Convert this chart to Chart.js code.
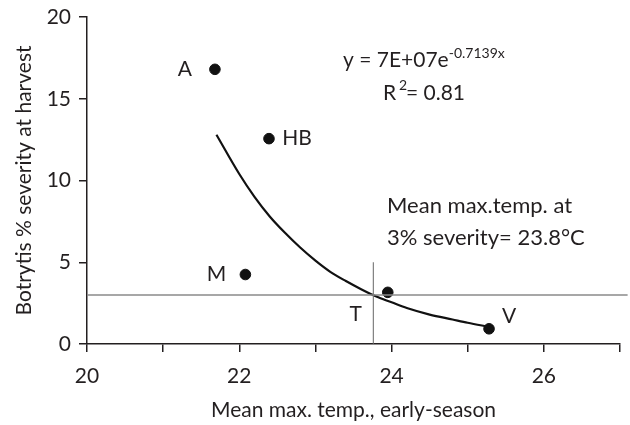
<!DOCTYPE html>
<html>
<head>
<meta charset="utf-8">
<script src="https://cdn.jsdelivr.net/npm/chart.js@4.4.1/dist/chart.umd.min.js"></script>
<style>
  html, body { margin: 0; padding: 0; background: #fff; }
  #wrap { width: 630px; height: 425px; }
</style>
</head>
<body>
<div id="wrap"><canvas id="botrytisChart" width="630" height="425"></canvas></div>
<script>
// vineyard sites: mean max temp vs botrytis severity
const siteNames = ['A', 'HB', 'M', 'T', 'V'];
const siteTemp = [21.68, 22.39, 22.08, 23.95, 25.28];
const siteSeverity = [16.8, 12.56, 4.25, 3.16, 0.93];

// exponential trendline
const trendTemp = [21.7, 22.0, 22.2, 22.4, 22.6, 22.8, 23.0, 23.2, 23.4, 23.6, 23.8, 24.0, 24.2, 24.5, 24.8, 25.0, 25.28];
const trendSeverity = [12.8, 10.4, 9.0, 7.8, 6.8, 5.9, 5.1, 4.4, 3.85, 3.35, 2.9, 2.55, 2.2, 1.8, 1.5, 1.3, 1.05];

// reference lines: 3% severity and 23.76 degrees
const thresholdSeverity = 3;
const thresholdTemp = 23.76;

const xTicks = [20, 22, 24, 26];
const yTicks = [0, 5, 10, 15, 20];

const fontFamily = 'Lato, "DejaVu Sans", sans-serif';
const ink = '#231f20';

// labels beside each site point (offset in px from the point)
const labelOffsets = {A: [-30, 0], HB: [28, 0], M: [-29, 0], T: [-32, 22], V: [20, -13]};

const annotationPlugin = {
    id: 'annotations',
    afterDatasetsDraw(chart) {
        const ctx = chart.ctx;
        const xs = chart.scales.x, ys = chart.scales.y;
        ctx.save();
        ctx.fillStyle = ink;
        ctx.font = '21px ' + fontFamily;
        ctx.textAlign = 'center';
        ctx.textBaseline = 'middle';
        siteNames.forEach((name, i) => {
            const off = labelOffsets[name];
            const px = xs.getPixelForValue(siteTemp[i]) + off[0];
            const py = ys.getPixelForValue(siteSeverity[i]) + off[1];
            ctx.fillText(name, px, py);
        });

        // equation
        ctx.textAlign = 'left';
        ctx.textBaseline = 'alphabetic';
        ctx.font = '21px ' + fontFamily;
        let x0 = 343, y0 = 67;
        const eq = 'y = 7E+07e';
        ctx.fillText(eq, x0, y0);
        let w = ctx.measureText(eq).width;
        ctx.font = '14px ' + fontFamily;
        ctx.fillText('-0.7139x', x0 + w, y0 - 9);

        ctx.font = '21px ' + fontFamily;
        ctx.fillText('R', 383, 100);
        ctx.font = '14px ' + fontFamily;
        ctx.fillText('2', 399, 90);
        ctx.font = '21px ' + fontFamily;
        ctx.fillText('= 0.81', 406, 100);

        ctx.font = '22px ' + fontFamily;
        ctx.fillText('Mean max.temp. at', 387, 213);
        ctx.fillText('3% severity= 23.8\u00B0C', 387, 245);
        ctx.restore();
    }
};

const ctx = document.getElementById('botrytisChart').getContext('2d');
const chart = new Chart(ctx, {
    type: 'scatter',
    data: {
        datasets: [
            {
                label: 'threshold severity',
                data: [{x: 20, y: thresholdSeverity}, {x: 27.1, y: thresholdSeverity}],
                showLine: true,
                borderColor: '#8a8a8a',
                borderWidth: 1.5,
                pointRadius: 0,
                clip: false
            },
            {
                label: 'threshold temp',
                data: [{x: thresholdTemp, y: 0}, {x: thresholdTemp, y: 5}],
                showLine: true,
                borderColor: '#666',
                borderWidth: 1,
                pointRadius: 0
            },
            {
                label: 'trend',
                data: trendTemp.map((t, i) => ({x: t, y: trendSeverity[i]})),
                showLine: true,
                borderColor: '#111',
                borderWidth: 2.2,
                pointRadius: 0,
                cubicInterpolationMode: 'monotone'
            },
            {
                label: 'sites',
                data: siteTemp.map((t, i) => ({x: t, y: siteSeverity[i]})),
                backgroundColor: '#111',
                borderColor: '#111',
                pointRadius: 5.3,
                pointHoverRadius: 5.3
            }
        ]
    },
    options: {
        responsive: false,
        animation: false,
        layout: { padding: { top: 17, right: 10, left: 0, bottom: 0 } },
        plugins: {
            legend: { display: false },
            tooltip: { enabled: false }
        },
        scales: {
            x: {
                type: 'linear',
                min: 20,
                max: 27,
                afterFit(scale) {
                    scale.height = 81;
                    scale.paddingLeft = 0;
                    scale.paddingRight = 0;
                },
                grid: { display: true, drawOnChartArea: false, drawTicks: true, tickLength: 8, color: ink, lineWidth: 1.5 },
                border: { color: ink, width: 1.5 },
                ticks: {
                    stepSize: 1,
                    color: ink,
                    font: { size: 21, family: fontFamily },
                    padding: 12,
                    maxRotation: 0,
                    callback: v => xTicks.includes(v) ? String(v) : ''
                },
                title: {
                    display: true,
                    text: 'Mean max. temp., early-season',
                    color: ink,
                    font: { size: 21, family: fontFamily },
                    padding: { top: 6, bottom: 2 }
                }
            },
            y: {
                type: 'linear',
                min: 0,
                max: 20,
                afterFit(scale) {
                    scale.width = 87;
                    scale.paddingTop = 0;
                    scale.paddingBottom = 0;
                },
                grid: { display: true, drawOnChartArea: false, drawTicks: true, tickLength: 8, color: ink, lineWidth: 1.5 },
                border: { color: ink, width: 1.5 },
                ticks: {
                    stepSize: 5,
                    color: ink,
                    font: { size: 21, family: fontFamily },
                    padding: 8,
                    callback: v => yTicks.includes(v) ? String(v) : ''
                },
                title: {
                    display: true,
                    text: 'Botrytis % severity at harvest',
                    color: ink,
                    font: { size: 21, family: fontFamily },
                    padding: { top: 12, bottom: 4 }
                }
            }
        }
    },
    plugins: [annotationPlugin]
});
</script>
</body>
</html>
